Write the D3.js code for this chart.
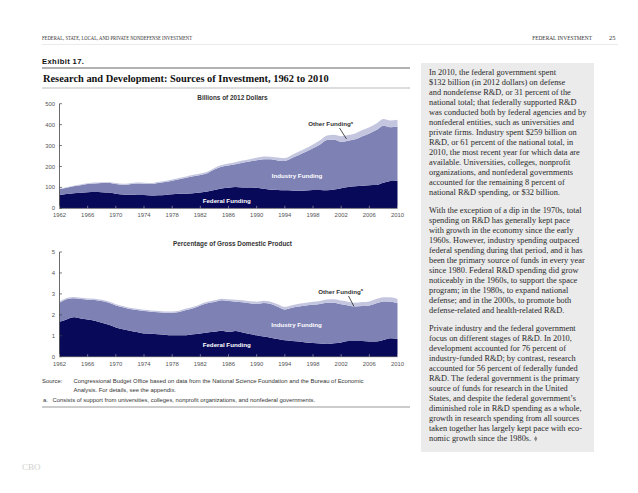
<!DOCTYPE html>
<html><head><meta charset="utf-8">
<script src="https://cdn.jsdelivr.net/npm/d3@7/dist/d3.min.js"></script>
<style>body{margin:0;background:#fff}svg{display:block}</style>
</head><body>
<svg id="c" width="638" height="493"></svg>
<script>
// ---------- DATA ----------
const years = d3.range(1962, 2011);
const xTicks = [1962,1966,1970,1974,1978,1982,1986,1990,1994,1998,2002,2006,2010];
const yTicksDollars = [0,100,200,300,400,500];
const yTicksGdp = [0,1,2,3,4,5];
const seriesKeys = ["federal","industry","other"];

// Billions of 2012 dollars
const federalDollars = [63,68,72,74,77,78,77,75,70,66,65,64,63,61,62,64,67,69,70,72,75,80,87,95,98,102,100,99,98,93,89,88,86,85,84,85,87,88,86,90,96,102,106,108,110,111,122,130,132];
const industryDollars = [29,30,33,36,39,41,44,46,46,46,50,54,54,55,59,62,65,70,76,81,84,88,98,104,107,108,118,125,132,142,145,141,140,155,171,185,200,217,240,238,222,221,224,237,248,263,273,258,259];
const otherDollars = [3,3,3,4,4,4,4,4,5,5,5,5,5,5,5,5,6,6,6,7,7,7,8,8,9,10,10,11,12,13,13,14,14,15,16,17,18,20,22,24,27,27,28,29,30,31,32,32,32];

// Percentage of GDP
const federalGdp = [1.67,1.78,1.88,1.83,1.78,1.72,1.62,1.53,1.40,1.31,1.24,1.18,1.11,1.10,1.07,1.05,1.02,1.02,1.03,1.07,1.11,1.16,1.19,1.24,1.19,1.23,1.16,1.08,1.02,0.96,0.91,0.84,0.78,0.75,0.72,0.68,0.65,0.63,0.61,0.64,0.68,0.75,0.75,0.75,0.73,0.73,0.80,0.88,0.84];
const industryGdp = [0.91,0.96,0.91,0.92,0.94,0.99,1.04,1.05,1.05,1.05,1.04,1.05,1.07,1.05,1.05,1.05,1.08,1.11,1.20,1.24,1.33,1.39,1.42,1.45,1.47,1.40,1.44,1.47,1.50,1.60,1.61,1.55,1.48,1.59,1.68,1.77,1.83,1.89,1.97,1.94,1.82,1.70,1.65,1.67,1.72,1.82,1.84,1.75,1.71];
const otherGdp = [0.06,0.06,0.06,0.06,0.06,0.06,0.06,0.06,0.06,0.06,0.06,0.06,0.06,0.06,0.06,0.06,0.06,0.07,0.07,0.07,0.07,0.07,0.08,0.08,0.08,0.09,0.09,0.10,0.11,0.11,0.11,0.12,0.12,0.12,0.13,0.13,0.14,0.14,0.15,0.16,0.18,0.18,0.18,0.19,0.19,0.20,0.20,0.21,0.21];

const para1 = ["In 2010, the federal government spent","$132 billion (in 2012 dollars) on defense","and nondefense R&D, or 31 percent of the","national total; that federally supported R&D","was conducted both by federal agencies and by","nonfederal entities, such as universities and","private firms. Industry spent $259 billion on","R&D, or 61 percent of the national total, in","2010, the most recent year for which data are","available. Universities, colleges, nonprofit","organizations, and nonfederal governments","accounted for the remaining 8 percent of","national R&D spending, or $32 billion."];
const para2 = ["With the exception of a dip in the 1970s, total","spending on R&D has generally kept pace","with growth in the economy since the early","1960s. However, industry spending outpaced","federal spending during that period, and it has","been the primary source of funds in every year","since 1980. Federal R&D spending did grow","noticeably in the 1960s, to support the space","program; in the 1980s, to expand national","defense; and in the 2000s, to promote both","defense-related and health-related R&D."];
const para3 = ["Private industry and the federal government","focus on different stages of R&D. In 2010,","development accounted for 76 percent of","industry-funded R&D; by contrast, research","accounted for 56 percent of federally funded","R&D. The federal government is the primary","source of funds for research in the United","States, and despite the federal government\u2019s","diminished role in R&D spending as a whole,","growth in research spending from all sources","taken together has largely kept pace with eco-","nomic growth since the 1980s."];

// ---------- DRAW ----------
const svg = d3.select("#c");
const colors = {federal:"#09095a", industry:"#7d81b4", other:"#c4c6e0"};
const sans = "Liberation Sans, Arial, sans-serif";
const serif = "Liberation Serif, Times New Roman, serif";

svg.append("rect").attr("width",638).attr("height",493).attr("fill","#fff");

// header
svg.append("text").attr("x",42).attr("y",40).attr("font-family",serif).attr("font-size",5.4)
  .attr("fill","#333").attr("textLength",150).attr("lengthAdjust","spacingAndGlyphs")
  .text("FEDERAL, STATE, LOCAL, AND PRIVATE NONDEFENSE INVESTMENT");
svg.append("text").attr("x",592).attr("y",40).attr("text-anchor","end").attr("font-family",serif).attr("font-size",5.4)
  .attr("fill","#333").text("FEDERAL INVESTMENT");
svg.append("text").attr("x",609).attr("y",40).attr("font-family",serif).attr("font-size",6.5)
  .attr("fill","#333").text("25");
svg.append("line").attr("x1",42).attr("x2",618).attr("y1",44.5).attr("y2",44.5).attr("stroke","#ddd").attr("stroke-width",0.6);

// exhibit heading
svg.append("text").attr("x",42).attr("y",64).attr("font-family",sans).attr("font-weight","bold").attr("font-size",7.6)
  .attr("letter-spacing",0.4).attr("fill","#111").text("Exhibit 17.");
svg.append("line").attr("x1",42).attr("x2",410).attr("y1",68).attr("y2",68).attr("stroke","#999").attr("stroke-width",1.4);
svg.append("text").attr("x",43).attr("y",82).attr("font-family",serif).attr("font-weight","bold").attr("font-size",10.4)
  .attr("fill","#111").text("Research and Development: Sources of Investment, 1962 to 2010");
svg.append("line").attr("x1",42).attr("x2",410).attr("y1",88).attr("y2",88).attr("stroke","#aaa").attr("stroke-width",0.8);

const x = d3.scaleLinear().domain([1962,2010]).range([59.5,397.5]);

function drawChart(cfg){
  const y = d3.scaleLinear().domain(cfg.domain).range([cfg.y0, cfg.y1]);
  const rows = years.map((yr,i)=>({year:yr, federal:cfg.fed[i], industry:cfg.ind[i], other:cfg.oth[i]}));
  const stack = d3.stack().keys(seriesKeys)(rows);
  const area = d3.area().x(d=>x(d.data.year)).y0(d=>y(d[0])).y1(d=>y(d[1])).curve(d3.curveMonotoneX);
  const g = svg.append("g");
  g.selectAll("path.a").data(stack).join("path").attr("class","a")
    .attr("d",area).attr("fill",d=>colors[d.key]);
  // y axis
  g.append("line").attr("x1",x(1962)).attr("x2",x(1962)).attr("y1",y(cfg.domain[0])).attr("y2",y(cfg.domain[1]))
    .attr("stroke","#444").attr("stroke-width",0.8);
  g.selectAll("line.yt").data(cfg.ticks).join("line").attr("class","yt")
    .attr("x1",x(1962)).attr("x2",x(1962)+2.5).attr("y1",d=>y(d)).attr("y2",d=>y(d)).attr("stroke","#444").attr("stroke-width",0.7);
  g.selectAll("text.yl").data(cfg.ticks).join("text").attr("class","yl")
    .attr("x",55).attr("y",d=>y(d)).attr("dy","0.35em").attr("text-anchor","end")
    .attr("font-family",sans).attr("font-size",5.9).attr("fill","#555").text(d=>d);
  // x axis
  g.append("line").attr("x1",x(1962)).attr("x2",x(2010)).attr("y1",y(0)).attr("y2",y(0)).attr("stroke","#444").attr("stroke-width",0.6);
  g.selectAll("line.xt").data(xTicks).join("line").attr("class","xt")
    .attr("x1",d=>x(d)).attr("x2",d=>x(d)).attr("y1",y(0)).attr("y2",y(0)-2.5).attr("stroke","#bbb").attr("stroke-width",0.6);
  g.selectAll("text.xl").data(xTicks).join("text").attr("class","xl")
    .attr("x",d=>x(d)).attr("y",y(0)+9).attr("text-anchor","middle")
    .attr("font-family",sans).attr("font-size",5.9).attr("fill","#555").text(d=>d);
  // title
  g.append("text").attr("x",232.5).attr("y",cfg.titleY).attr("text-anchor","middle").attr("font-family",sans)
    .attr("font-weight","bold").attr("font-size",6.4).attr("fill","#333").text(cfg.title);
  // labels
  g.append("text").attr("x",cfg.indX).attr("y",cfg.indY).attr("text-anchor","middle").attr("font-family",sans)
    .attr("font-weight","bold").attr("font-size",6.2).attr("fill","#fff").text("Industry Funding");
  g.append("text").attr("x",226.7).attr("y",cfg.fedY).attr("text-anchor","middle").attr("font-family",sans)
    .attr("font-weight","bold").attr("font-size",6.2).attr("fill","#fff").text("Federal Funding");
  const ot = g.append("text").attr("x",cfg.othX).attr("y",cfg.othY).attr("text-anchor","end").attr("font-family",sans)
    .attr("font-weight","bold").attr("font-size",6.2).attr("fill","#333");
  ot.append("tspan").text("Other Funding");
  ot.append("tspan").attr("font-size",4).attr("dy",-2.5).text("a");
  g.append("line").attr("x1",cfg.ln[0]).attr("y1",cfg.ln[1]).attr("x2",cfg.ln[2]).attr("y2",cfg.ln[3])
    .attr("stroke","#222").attr("stroke-width",0.8);
}

drawChart({domain:[0,500], y0:208.3, y1:103.7, ticks:yTicksDollars, fed:federalDollars, ind:industryDollars, oth:otherDollars,
  title:"Billions of 2012 Dollars", titleY:99.5, indX:297, indY:177.5, fedY:202.5, othX:353, othY:126, ln:[339.5,128,346.5,139]});
drawChart({domain:[0,5], y0:356.7, y1:252, ticks:yTicksGdp, fed:federalGdp, ind:industryGdp, oth:otherGdp,
  title:"Percentage of Gross Domestic Product", titleY:245.5, indX:296.5, indY:326.5, fedY:347, othX:363, othY:293.5, ln:[348.5,296,354,306.5]});

// source + note
const note = svg.append("g").attr("font-family",sans).attr("font-size",5.9).attr("fill","#333");
note.append("text").attr("x",42).attr("y",383).text("Source:");
note.append("text").attr("x",73.5).attr("y",383).text("Congressional Budget Office based on data from the National Science Foundation and the Bureau of Economic");
note.append("text").attr("x",73.5).attr("y",392).text("Analysis. For details, see the appendix.");
note.append("text").attr("x",43).attr("y",402).text("a.");
note.append("text").attr("x",52.5).attr("y",402).text("Consists of support from universities, colleges, nonprofit organizations, and nonfederal governments.");
svg.append("line").attr("x1",42).attr("x2",410).attr("y1",407).attr("y2",407).attr("stroke","#bbb").attr("stroke-width",1.3);

svg.append("text").attr("x",22).attr("y",470).attr("font-family",serif).attr("font-size",9).attr("fill","#d0d0d0").text("CBO");

// right text box
svg.append("rect").attr("x",421).attr("y",63).attr("width",173).attr("height",389).attr("fill","#ebebeb");
const tx = svg.append("g").attr("font-family",serif).attr("font-size",8.8).attr("fill","#2a2a2a");
// fit font so the reference's widest line spans ~157px
const probe = tx.append("text").attr("x",429).attr("y",-50).text(para1[4]);
const w0 = probe.node().getComputedTextLength();
probe.remove();
const fs = Math.min(9.6, 8.8 * 157.5 / w0);
tx.attr("font-size", fs);
let last = null;
function para(lines, y0){
  lines.forEach((l,i)=>{ last = tx.append("text").attr("x",429).attr("y",y0+i*10.08).text(l); });
}
para(para1, 74.5);
para(para2, 212.5);
para(para3, 330.5);
// closing diamond
const endX = 429 + last.node().getComputedTextLength() + 4.5;
svg.append("path").attr("d",d3.symbol().type(d3.symbolDiamond).size(9)())
  .attr("transform",`translate(${endX},438.8)`).attr("fill","#888");
</script>
</body></html>
